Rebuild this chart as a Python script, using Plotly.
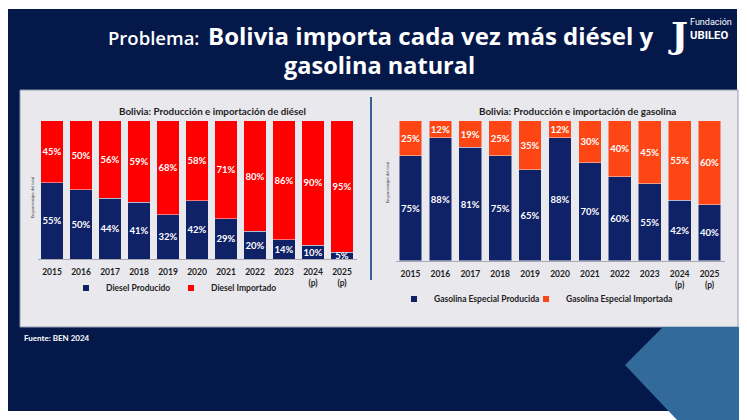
import plotly.graph_objects as go

W, H = 747, 420
OFF = 8  # page body margin, positions below are screen pixels

years = ['2015', '2016', '2017', '2018', '2019', '2020', '2021', '2022', '2023',
         '2024<br>(p)', '2025<br>(p)']

diesel_prod = [55, 50, 44, 41, 32, 42, 29, 20, 14, 10, 5]
diesel_imp = [45, 50, 56, 59, 68, 58, 71, 80, 86, 90, 95]

gas_prod = [75, 88, 81, 75, 65, 88, 70, 60, 55, 42, 40]
gas_imp = [25, 12, 19, 25, 35, 12, 30, 40, 45, 55, 60]

NAVY_BG = '#04184a'
BAR_NAVY = '#0f2167'
RED = '#fe0000'
ORANGE = '#fd4613'
STEEL = '#336a9c'
PANEL = '#e8e8ed'
FONT = 'Lato'


def px(x):
    return (x - OFF) / W


def py(y):
    return 1 - (y - OFF) / H


def pct(vals):
    return [f'{v}%' for v in vals]


fig = go.Figure()

bar_style = dict(textposition='inside', insidetextanchor='middle', constraintext='none',
                 textangle=0,
                 textfont=dict(family=FONT, size=9.5, color='white', weight='bold'),
                 showlegend=False, hoverinfo='skip')

fig.add_trace(go.Bar(x=years, y=diesel_prod, text=pct(diesel_prod), marker_color=BAR_NAVY,
                     xaxis='x', yaxis='y', **bar_style))
fig.add_trace(go.Bar(x=years, y=diesel_imp, text=pct(diesel_imp), marker_color=RED,
                     xaxis='x', yaxis='y', **bar_style))
fig.add_trace(go.Bar(x=years, y=gas_prod, text=pct(gas_prod), marker_color=BAR_NAVY,
                     xaxis='x2', yaxis='y2', **bar_style))
fig.add_trace(go.Bar(x=years, y=gas_imp, text=pct(gas_imp), marker_color=ORANGE,
                     xaxis='x2', yaxis='y2', **bar_style))

# one legend per entry so each can sit where it is in the original
legend_items = [('Diesel Producido', BAR_NAVY, 'x', 'y', 'legend', 66, 288),
                ('Diesel Importado', RED, 'x', 'y', 'legend2', 171, 288),
                ('Gasolina Especial Producida', BAR_NAVY, 'x2', 'y2', 'legend3', 394, 299),
                ('Gasolina Especial Importada', ORANGE, 'x2', 'y2', 'legend4', 526, 299)]

legcommon = dict(orientation='h', bgcolor='rgba(0,0,0,0)', yanchor='middle', itemwidth=30,
                 font=dict(family=FONT, size=8.5, color='#1e1e1e', weight='bold'))

legend_layout = {}
for name, col, xa, ya, lg, lx, ly in legend_items:
    fig.add_trace(go.Scatter(x=[None], y=[None], mode='markers', name=name, legend=lg,
                             marker=dict(symbol='square', size=6, color=col),
                             xaxis=xa, yaxis=ya))
    legend_layout[lg] = dict(x=px(lx), y=py(ly), **legcommon)

xcommon = dict(type='category', showline=True, linecolor='#a9a9b0', linewidth=1,
               ticks='', showgrid=False, ticklabelstandoff=5,
               tickfont=dict(family=FONT, size=8.5, color='#1e1e1e', weight='bold'))
ycommon = dict(range=[0, 100], visible=False, showgrid=False)

fig.update_layout(
    width=W, height=H,
    margin=dict(l=0, r=0, t=0, b=0),
    paper_bgcolor='white', plot_bgcolor='rgba(0,0,0,0)',
    barmode='stack', barnorm='percent', bargap=0.24,
    xaxis=dict(domain=[px(37.5), px(356.5)], anchor='y', **xcommon),
    yaxis=dict(domain=[py(259), py(120.7)], anchor='x', **ycommon),
    xaxis2=dict(domain=[px(395.5), px(724.5)], anchor='y2', **xcommon),
    yaxis2=dict(domain=[py(260.7), py(120.7)], anchor='x2', **ycommon),
    **legend_layout,
)

shapes = [
    # dark slide background
    dict(type='rect', xref='paper', yref='paper', x0=px(7), x1=px(737), y0=py(411), y1=py(9),
         fillcolor=NAVY_BG, line_width=0, layer='below'),
    # light chart panel
    dict(type='rect', xref='paper', yref='paper', x0=px(20), x1=px(738), y0=py(327), y1=py(90),
         fillcolor=PANEL, line=dict(color='#8f9ab0', width=1), layer='below'),
    # steel blue corner shape
    dict(type='path', xref='paper', yref='paper', layer='below', fillcolor=STEEL, line_width=0,
         path=(f'M {px(663)},{py(327)} L {px(748)},{py(327)} L {px(748)},{py(421)} '
               f'L {px(678)},{py(421)} L {px(625)},{py(365)} Z')),
    # divider between charts
    dict(type='line', xref='paper', yref='paper', x0=px(371), x1=px(371), y0=py(280), y1=py(97),
         line=dict(color='#3a5f95', width=2)),
]
fig.update_layout(shapes=shapes)

ann = [
    dict(text='Problema:', x=px(201), y=py(38), xanchor='right', yanchor='middle',
         font=dict(family='Open Sans', size=18.5, color='white', weight=600)),
    dict(text='Bolivia importa cada vez más diésel y', x=px(206), y=py(36), xanchor='left',
         yanchor='middle', font=dict(family='Open Sans', size=24, color='white', weight='bold')),
    dict(text='gasolina natural', x=px(379), y=py(65), xanchor='center', yanchor='middle',
         font=dict(family='Open Sans', size=23.5, color='white', weight='bold')),
    dict(text='Bolivia: Producción e importación de diésel', x=px(212), y=py(111),
         xanchor='center', yanchor='middle',
         font=dict(family=FONT, size=9.8, color='#1e1e1e', weight='bold')),
    dict(text='Bolivia: Producción e importación de gasolina', x=px(577), y=py(111),
         xanchor='center', yanchor='middle',
         font=dict(family=FONT, size=9.8, color='#1e1e1e', weight='bold')),
    dict(text='En porcentajes del total', x=px(33), y=py(198), textangle=-90,
         xanchor='center', yanchor='middle', font=dict(family=FONT, size=4, color='#333333')),
    dict(text='En porcentajes del total', x=px(387), y=py(183), textangle=-90,
         xanchor='center', yanchor='middle', font=dict(family=FONT, size=4, color='#333333')),
    dict(text='Fuente: BEN 2024', x=px(22), y=py(338), xanchor='left', yanchor='middle',
         font=dict(family=FONT, size=8, color='white', weight='bold')),
    # logo text
    dict(text='J', x=px(678), y=py(35), xanchor='center', yanchor='middle',
         font=dict(family='DejaVu Serif', size=36, color='white', weight='bold')),
    dict(text='Fundación', x=px(688), y=py(22), xanchor='left', yanchor='middle',
         font=dict(family='Roboto', size=9, color='white')),
    dict(text='UBILEO', x=px(688), y=py(36), xanchor='left', yanchor='middle',
         font=dict(family='Roboto', size=11.3, color='white', weight='bold')),
]
for a in ann:
    a.update(xref='paper', yref='paper', showarrow=False)
fig.update_layout(annotations=ann)

fig.write_html('out.html')
